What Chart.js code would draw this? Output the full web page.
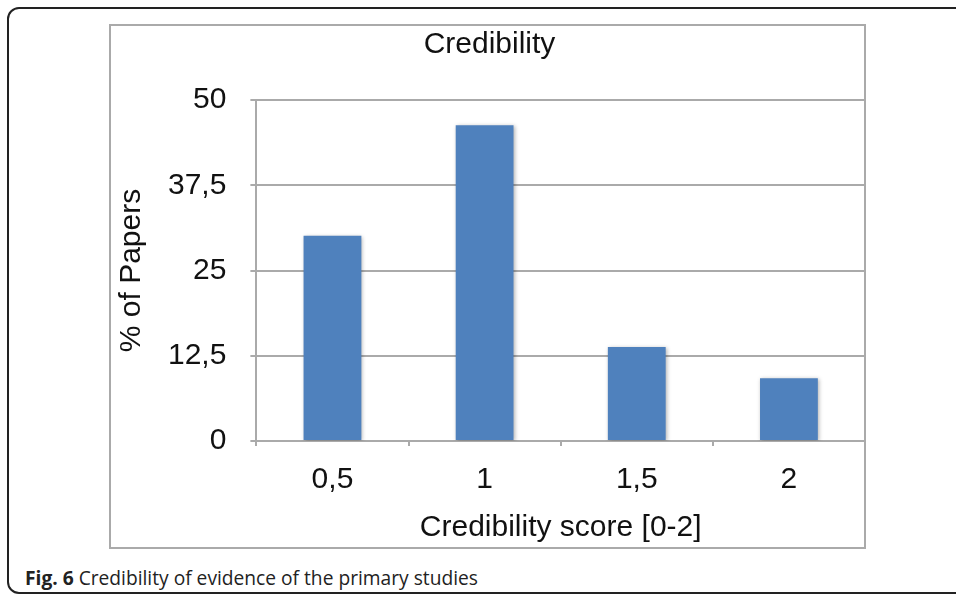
<!DOCTYPE html>
<html>
<head>
<meta charset="utf-8">
<script src="https://cdn.jsdelivr.net/npm/chart.js@4.4.1/dist/chart.umd.min.js"></script>
<style>
  html, body { margin: 0; padding: 0; background: #fff; }
  body { width: 956px; height: 596px; position: relative; overflow: hidden; }
  .frame {
    position: absolute; left: 7px; top: 7px; width: 980px; height: 587px;
    border: 2px solid #222; border-radius: 12px; box-sizing: border-box;
  }
  .box {
    position: absolute; left: 109px; top: 24px; width: 757px; height: 525px;
    border: 2px solid #aaa; box-sizing: border-box;
  }
  #wrap { position: absolute; left: 110px; top: 25px; width: 755px; height: 523px; }
  .caption {
    position: absolute; left: 25px; top: 564px;
    font-family: "Open Sans", sans-serif; font-size: 19.2px; color: #222; white-space: nowrap;
  }
  .caption b { font-weight: 700; }
</style>
</head>
<body>
<div class="frame"></div>
<div class="box"></div>
<div id="wrap"><canvas id="chart"></canvas></div>
<div class="caption"><b>Fig. 6</b> Credibility of evidence of the primary studies</div>
<script>
const categories = ['0,5', '1', '1,5', '2'];
const papersPct = [30.1, 46.3, 13.8, 9.2];
const yTickValues = [0, 12.5, 25, 37.5, 50];
const yTickLabels = ['0', '12,5', '25', '37,5', '50'];

const font = 'Liberation Sans, Arial, Helvetica, sans-serif';

// soft shadow under the bars, like the original Excel export
const barShadow = {
  id: 'barShadow',
  beforeDatasetsDraw(chart) {
    const ctx = chart.ctx;
    ctx.save();
    ctx.shadowColor = 'rgba(0,0,0,0.3)';
    ctx.shadowBlur = 4;
    ctx.shadowOffsetX = 1;
    ctx.shadowOffsetY = 1;
  },
  afterDatasetsDraw(chart) {
    chart.ctx.restore();
  }
};

new Chart(document.getElementById('chart'), {
  type: 'bar',
  data: {
    labels: categories,
    datasets: [{
      data: papersPct,
      backgroundColor: '#4f81bd',
      borderWidth: 0,
      categoryPercentage: 0.76,
      barPercentage: 0.5
    }]
  },
  plugins: [barShadow],
  options: {
    responsive: true,
    maintainAspectRatio: false,
    animation: false,
    layout: { padding: { left: 4, right: 0, top: 2, bottom: 2 } },
    plugins: {
      legend: { display: false },
      tooltip: { enabled: false },
      title: {
        display: true,
        text: 'Credibility',
        color: '#111',
        font: { family: font, size: 30, weight: 'normal' },
        padding: { top: 0, bottom: 37 }
      }
    },
    scales: {
      x: {
        offset: true,
        grid: {
          offset: true,
          drawOnChartArea: false,
          drawTicks: true,
          tickLength: 5,
          color: '#aaa',
          lineWidth: 2
        },
        border: { color: '#aaa', width: 2 },
        ticks: {
          color: '#111',
          font: { family: font, size: 30 },
          padding: 16
        },
        title: {
          display: true,
          text: 'Credibility score [0-2]',
          color: '#111',
          font: { family: font, size: 30 },
          padding: { top: -4, bottom: 0 }
        }
      },
      y: {
        min: 0,
        max: 50,
        afterBuildTicks(axis) {
          axis.ticks = yTickValues.map(v => ({ value: v }));
        },
        grid: {
          color: '#aaa',
          lineWidth: 2,
          tickLength: 6
        },
        border: { color: '#aaa', width: 2 },
        ticks: {
          color: '#111',
          font: { family: font, size: 30 },
          padding: 24,
          callback: (value, i) => yTickLabels[i]
        },
        title: {
          display: true,
          text: '% of Papers',
          color: '#111',
          font: { family: font, size: 30 },
          padding: { top: 0, bottom: -6 }
        }
      }
    }
  }
});
</script>
</body>
</html>
